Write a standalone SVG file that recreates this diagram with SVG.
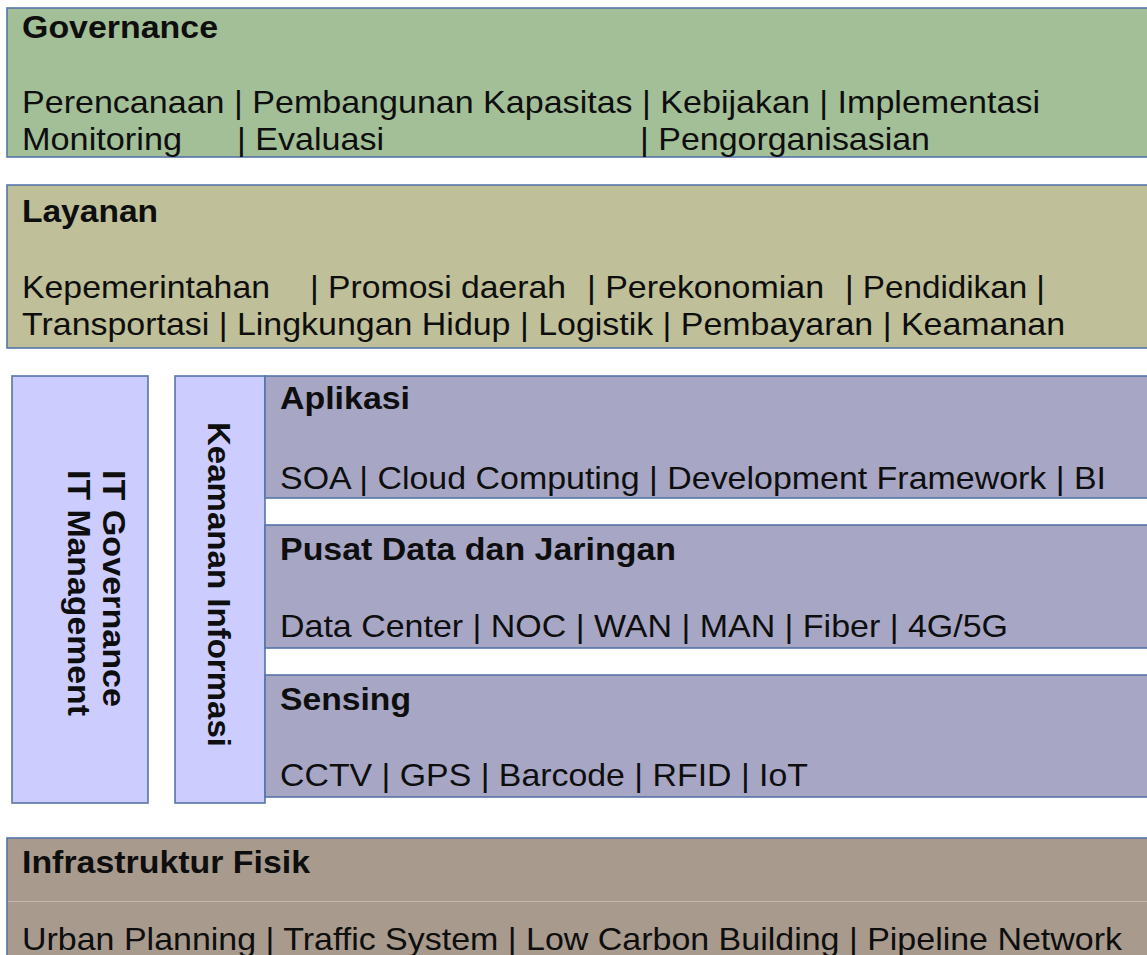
<svg xmlns="http://www.w3.org/2000/svg" width="1147" height="955" viewBox="0 0 1147 955">
<style>
.box{stroke:#5575a8;stroke-width:1.6}
.t{font-family:"Liberation Sans",Arial,sans-serif;font-size:32px;fill:#0e0e0e}
.b{font-weight:bold}
</style>
<rect width="1147" height="955" fill="#ffffff"/>
<g id="governance">
<rect class="box" x="7" y="8" width="1150" height="149" fill="#a3bf98"/>
<text class="t b" x="22" y="38" textLength="196" lengthAdjust="spacingAndGlyphs">Governance</text>
<text class="t" x="22" y="113" textLength="1018" lengthAdjust="spacingAndGlyphs">Perencanaan | Pembangunan Kapasitas | Kebijakan | Implementasi</text>
<text class="t" x="22" y="150" textLength="160" lengthAdjust="spacingAndGlyphs">Monitoring</text>
<text class="t" x="237" y="150" textLength="147" lengthAdjust="spacingAndGlyphs">| Evaluasi</text>
<text class="t" x="640" y="150" textLength="290" lengthAdjust="spacingAndGlyphs">| Pengorganisasian</text>
</g>
<g id="layanan">
<rect class="box" x="7" y="185" width="1150" height="163" fill="#bfbf99"/>
<text class="t b" x="22" y="222" textLength="136" lengthAdjust="spacingAndGlyphs">Layanan</text>
<text class="t" x="22" y="298" textLength="248" lengthAdjust="spacingAndGlyphs">Kepemerintahan</text>
<text class="t" x="310" y="298" textLength="256" lengthAdjust="spacingAndGlyphs">| Promosi daerah</text>
<text class="t" x="587" y="298" textLength="237" lengthAdjust="spacingAndGlyphs">| Perekonomian</text>
<text class="t" x="845" y="298" textLength="200" lengthAdjust="spacingAndGlyphs">| Pendidikan |</text>
<text class="t" x="22" y="335" textLength="1043" lengthAdjust="spacingAndGlyphs">Transportasi | Lingkungan Hidup | Logistik | Pembayaran | Keamanan</text>
</g>
<g id="it-governance">
<rect class="box" x="12" y="376" width="136" height="427" fill="#ccccff"/>
<text class="t b" transform="translate(103,470) rotate(90)" x="0" y="0" textLength="237" lengthAdjust="spacingAndGlyphs">IT Governance</text>
<text class="t b" transform="translate(68,470) rotate(90)" x="0" y="0" textLength="246" lengthAdjust="spacingAndGlyphs">IT Management</text>
</g>
<g id="keamanan-informasi">
<rect class="box" x="175" y="376" width="90" height="427" fill="#ccccff"/>
<text class="t b" transform="translate(208,422) rotate(90)" x="0" y="0" textLength="325" lengthAdjust="spacingAndGlyphs">Keamanan Informasi</text>
</g>
<g id="aplikasi">
<rect class="box" x="265" y="376" width="890" height="122" fill="#a7a7c5"/>
<text class="t b" x="280" y="409" textLength="130" lengthAdjust="spacingAndGlyphs">Aplikasi</text>
<text class="t" x="280" y="489" textLength="826" lengthAdjust="spacingAndGlyphs">SOA | Cloud Computing | Development Framework | BI</text>
</g>
<g id="pusat-data">
<rect class="box" x="265" y="525" width="890" height="123" fill="#a7a7c5"/>
<text class="t b" x="280" y="560" textLength="396" lengthAdjust="spacingAndGlyphs">Pusat Data dan Jaringan</text>
<text class="t" x="280" y="637" textLength="728" lengthAdjust="spacingAndGlyphs">Data Center | NOC | WAN | MAN | Fiber | 4G/5G</text>
</g>
<g id="sensing">
<rect class="box" x="265" y="675" width="890" height="122" fill="#a7a7c5"/>
<text class="t b" x="280" y="710" textLength="131" lengthAdjust="spacingAndGlyphs">Sensing</text>
<text class="t" x="280" y="786" textLength="528" lengthAdjust="spacingAndGlyphs">CCTV | GPS | Barcode | RFID | IoT</text>
</g>
<g id="infrastruktur-fisik">
<rect class="box" x="7" y="838" width="1150" height="130" fill="#a89b8d"/>
<line x1="8" y1="901.5" x2="1147" y2="901.5" stroke="#c2b7ab" stroke-width="1.2"/>
<text class="t b" x="22" y="873" textLength="288" lengthAdjust="spacingAndGlyphs">Infrastruktur Fisik</text>
<text class="t" x="22" y="950" textLength="1100" lengthAdjust="spacingAndGlyphs">Urban Planning | Traffic System | Low Carbon Building | Pipeline Network</text>
</g>
<g id="connectors"></g>
</svg>
